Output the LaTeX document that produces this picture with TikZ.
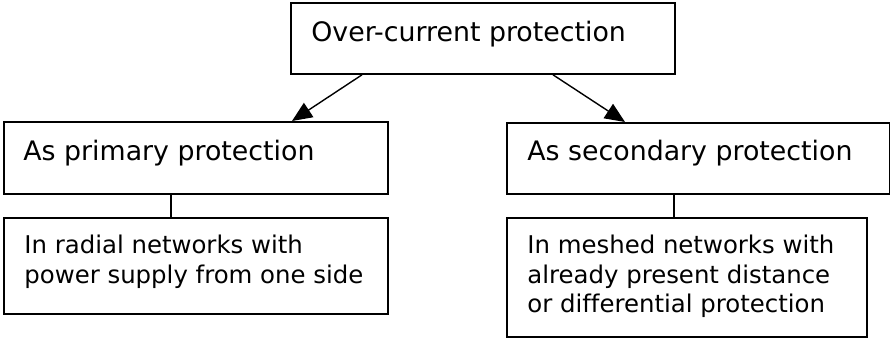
\documentclass[tikz,border=0pt]{standalone}
\usepackage{fontspec}
\setmainfont{DejaVu Sans}[Ligatures=NoCommon]
\usetikzlibrary{arrows.meta, positioning}

\tikzset{
    box/.style={draw, line width=0.9pt, rectangle, inner sep=0pt, anchor=north west},
    boxtext/.style={inner sep=0pt, anchor=north west, align=left,
        font=\fontsize{13.4pt}{15pt}\selectfont},
    smalltext/.style={boxtext, font=\fontsize{12.2pt}{14.7pt}\selectfont},
    conn/.style={line width=0.7pt},
}

\begin{document}
\begin{tikzpicture}[x=0.5pt, y=-0.5pt, >={Triangle[length=10pt, width=8.5pt]}]

    \useasboundingbox (0,0) rectangle (890,338);

    % the boxes, in pixel coordinates of the page
    \node[box, minimum width=192pt, minimum height=35.5pt] (over) at (290,2) {};
    \node[box, minimum width=192pt, minimum height=36pt] (prim) at (3,121) {};
    \node[box, minimum width=192pt, minimum height=48pt] (radial) at (3,217) {};
    \node[box, minimum width=191.5pt, minimum height=35.5pt] (sec) at (506,122) {};
    \node[box, minimum width=180pt, minimum height=59.5pt] (meshed) at (506,217) {};

    % texts, set at the top left of each box
    \node[boxtext, below right=9.5pt and 10.5pt of over.north west] (overtxt) {Over-current protection};
    \node[boxtext, below right=9.5pt and 10pt of prim.north west] (primtxt) {As primary protection};
    \node[smalltext, below right=9pt and 10.5pt of radial.north west] (radialtxt) {In radial networks with\\power supply from one side};
    \node[boxtext, below right=9pt and 10.5pt of sec.north west] (sectxt) {As secondary protection};
    \node[smalltext, below right=9pt and 10.5pt of meshed.north west] (meshedtxt) {In meshed networks with\\already present distance\\or differential protection};

    % arrows from the top box
    \draw[conn, ->] ([xshift=36pt]over.south west) -- ([xshift=144.5pt]prim.north west);
    \draw[conn, ->] ([xshift=131.5pt]over.south west) -- ([xshift=59.5pt]sec.north west);

    % plain links down to the detail boxes
    \draw[conn] ([xshift=84pt]prim.south west) -- ([xshift=84pt]radial.north west);
    \draw[conn] ([xshift=84pt]sec.south west) -- ([xshift=84pt]meshed.north west);

\end{tikzpicture}
\end{document}
